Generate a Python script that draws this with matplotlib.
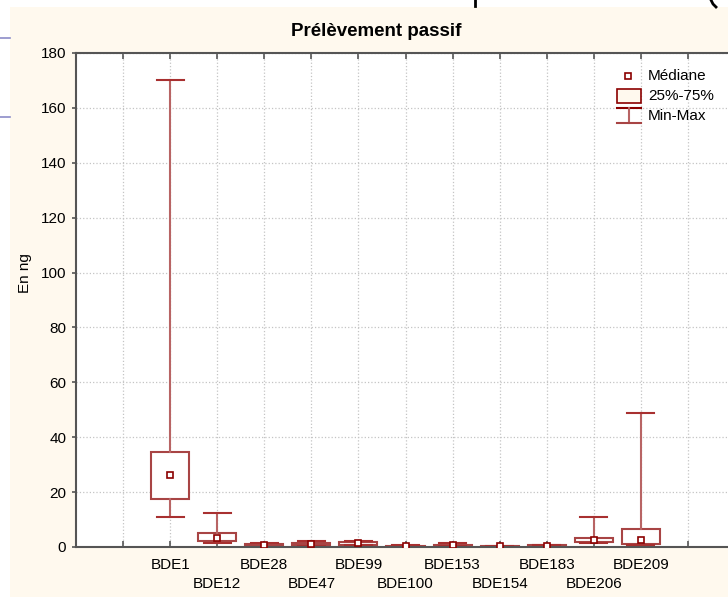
import matplotlib
matplotlib.use("Agg")
import matplotlib.pyplot as plt
from matplotlib.patches import Rectangle
from matplotlib.lines import Line2D

plt.rcParams['font.family'] = ['Liberation Sans', 'DejaVu Sans']

# values (ng)
labels = ['BDE1', 'BDE12', 'BDE28', 'BDE47', 'BDE99', 'BDE100',
          'BDE153', 'BDE154', 'BDE183', 'BDE206', 'BDE209']
mins = [11.0, 1.3, 0.1, 0.5, 0.6, 0.05, 0.2, 0.0, 0.05, 1.6, 0.9]
q1 = [17.5, 2.2, 0.3, 0.8, 0.9, 0.1, 0.4, 0.05, 0.1, 1.9, 1.2]
med = [26.2, 3.4, 0.6, 1.2, 1.3, 0.3, 0.6, 0.2, 0.4, 2.5, 2.5]
q3 = [34.5, 5.0, 1.0, 1.6, 1.7, 0.5, 0.9, 0.3, 0.6, 3.2, 6.4]
maxs = [170.0, 12.5, 1.4, 2.1, 2.3, 0.7, 1.3, 0.5, 0.8, 11.0, 49.0]
yticks = list(range(0, 181, 20))

W, H = 728, 597
cream = '#fff9ee'
dark = '#8b0000'
boxcol = '#a84444'
whiskcol = '#b86464'


def fx(px):
    return px / W


def fy(py):
    return 1 - py / H


fig = plt.figure(figsize=(W / 100, H / 100), dpi=100, facecolor='white')

# screenshot background and stray bits around it
fig.add_artist(Rectangle((fx(10), 0), 1, fy(7), transform=fig.transFigure,
                         facecolor=cream, edgecolor='none', zorder=0))
for yy in [38, 117]:
    fig.add_artist(Line2D([0, fx(10)], [fy(yy), fy(yy)], transform=fig.transFigure,
                          color='#8c8cc8', lw=1.2))
fig.add_artist(Line2D([fx(475), fx(475)], [1, fy(6)], transform=fig.transFigure,
                      color='black', lw=2))
fig.add_artist(Line2D([fx(711), fx(713), fx(716)], [1, fy(4), fy(7)],
                      transform=fig.transFigure, color='black', lw=2))

# axes run past the right edge of the picture
ax = fig.add_axes([fx(76), fy(547), fx(735) - fx(76), fy(53) - fy(547)])
ax.set_facecolor('white')

pos = list(range(1, len(labels) + 1))
stats = []
for i in range(len(labels)):
    stats.append(dict(whislo=mins[i], q1=q1[i], med=med[i], q3=q3[i],
                      whishi=maxs[i], fliers=[]))

ax.bxp(stats, positions=pos, widths=0.81, capwidths=0.57, showfliers=False,
       patch_artist=True,
       boxprops=dict(facecolor='white', edgecolor=boxcol, linewidth=1.5),
       whiskerprops=dict(color=whiskcol, linewidth=1.5),
       capprops=dict(color='#a83030', linewidth=1.5),
       medianprops=dict(linestyle='none'))
ax.plot(pos, med, ls='none', marker='s', ms=5, mfc='white', mec=dark, mew=1.2,
        zorder=4)

ax.set_xlim(-1, 13)
ax.set_ylim(0, 180)
ax.set_yticks(yticks)
ax.set_yticklabels([str(v) for v in yticks], fontsize=11)

# staggered labels: odd positions on the first row (major ticks),
# even positions on the second row (minor ticks, bigger pad)
major = [p for p in range(0, 13) if p % 2 == 1]
minor = [p for p in range(0, 13) if p % 2 == 0]
ax.set_xticks(major)
ax.set_xticklabels([labels[p - 1] for p in major], fontsize=11)
ax.set_xticks(minor, minor=True)
ax.set_xticklabels([labels[p - 1] if 1 <= p <= len(labels) else '' for p in minor],
                   minor=True, fontsize=11)

ax.grid(True, which='both', ls=':', color='#c4c4c4', lw=0.9)
ax.set_axisbelow(True)
for s in ['left', 'top', 'bottom']:
    ax.spines[s].set_color('#555555')
    ax.spines[s].set_linewidth(1.5)
ax.spines['right'].set_visible(False)
ax.tick_params(axis='x', which='major', direction='in', length=4, width=1.2,
               color='#555555', top=True, pad=8)
ax.tick_params(axis='x', which='minor', direction='in', length=4, width=1.2,
               color='#555555', top=True, pad=21.5)
ax.tick_params(axis='y', direction='out', length=3, width=1.2, color='#555555',
               pad=4)

fig.text(fx(376), fy(36.5), 'Prélèvement passif', ha='center', va='baseline',
         fontsize=13.5, fontweight='bold')
fig.text(fx(25), fy(273), 'En ng', rotation=90, ha='center', va='center',
         fontsize=11)

# legend drawn by hand, Statistica style
fig.add_artist(Line2D([fx(628)], [fy(76)], transform=fig.transFigure, ls='none',
                      marker='s', ms=5, mfc='white', mec=dark, mew=1.2))
fig.add_artist(Rectangle((fx(617), fy(103)), fx(641) - fx(617), fy(89) - fy(103),
                         transform=fig.transFigure, facecolor=cream,
                         edgecolor=dark, lw=1.2))
fig.add_artist(Line2D([fx(617), fx(641)], [fy(108), fy(108)],
                      transform=fig.transFigure, color=dark, lw=1.5))
fig.add_artist(Line2D([fx(629), fx(629)], [fy(108), fy(123)],
                      transform=fig.transFigure, color=whiskcol, lw=1.5))
fig.add_artist(Line2D([fx(617), fx(641)], [fy(123), fy(123)],
                      transform=fig.transFigure, color=boxcol, lw=1.5))
for txt, yy in [('Médiane', 76), ('25%-75%', 96), ('Min-Max', 116)]:
    fig.text(fx(648), fy(yy), txt, ha='left', va='center', fontsize=11)

fig.savefig('out.png', dpi=100, facecolor=fig.get_facecolor())
